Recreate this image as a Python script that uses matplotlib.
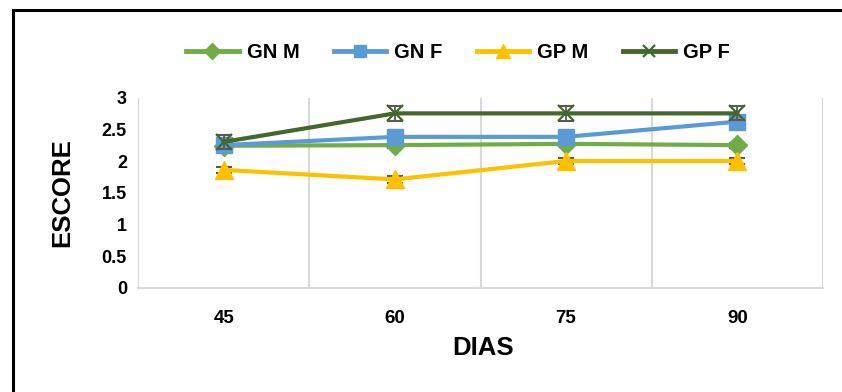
import matplotlib
matplotlib.use("Agg")
import matplotlib.pyplot as plt
from matplotlib.patches import Rectangle
import numpy as np

plt.rcParams['font.family'] = ['Liberation Sans', 'DejaVu Sans']
plt.rcParams['font.weight'] = 'bold'

# Data
dias = ["45", "60", "75", "90"]
gn_m = [2.24, 2.25, 2.27, 2.25]
gn_f = [2.25, 2.38, 2.38, 2.62]
gp_m = [1.86, 1.71, 2.0, 2.0]
gp_f = [2.30, 2.75, 2.75, 2.75]
err_gn_m = [0.04, 0.04, 0.04, 0.04]
err_gn_f = [0.04, 0.04, 0.04, 0.04]
err_gp_m = [0.05, 0.05, 0.05, 0.05]
err_gp_f = [0.11, 0.12, 0.12, 0.11]
series_names = ["GN M", "GN F", "GP M", "GP F"]
y_ticks = [0, 0.5, 1, 1.5, 2, 2.5, 3]
y_ticklabels = ["0", "0.5", "1", "1.5", "2", "2.5", "3"]

W, H = 842, 392
fig = plt.figure(figsize=(W / 100, H / 100), dpi=100)
ax = fig.add_axes([138 / W, 1 - 288 / H, (823 - 138) / W, (288 - 97.5) / H])

x = np.arange(len(dias))
styles = [
    dict(color="#70AD47", marker="D", ms=10.5, mec="#70AD47", mfc="#70AD47", mew=1),
    dict(color="#5B9BD5", marker="s", ms=12, mec="#5B9BD5", mfc="#5B9BD5", mew=1),
    dict(color="#FFC000", marker="^", ms=13, mec="#FFC000", mfc="#FFC000", mew=1),
    dict(color="#43682B", marker="x", ms=11, mec="#43682B", mfc="#43682B", mew=1.6),
]
values = [gn_m, gn_f, gp_m, gp_f]
errors = [err_gn_m, err_gn_f, err_gp_m, err_gp_f]

handles = []
for i, (vals, errs, st, name) in enumerate(zip(values, errors, styles, series_names)):
    ax.errorbar(x, vals, yerr=errs, fmt="none", ecolor="#595959",
                elinewidth=1.3, capsize=6, capthick=1.5, zorder=2 + i)
    h, = ax.plot(x, vals, lw=3, label=name, zorder=3 + i, **st)
    handles.append(h)

ax.set_xlim(-0.5, 3.5)
ax.set_ylim(0, 3)
ax.set_xticks(x)
ax.set_xticklabels(dias, fontsize=13.5, fontweight="bold")
ax.set_yticks(y_ticks)
ax.set_yticklabels(y_ticklabels, fontsize=13, fontweight="bold")
ax.tick_params(axis="both", which="both", length=0)
ax.tick_params(axis="x", pad=16)
ax.tick_params(axis="y", pad=8)

ax.set_xticks(np.arange(-0.5, 4.0, 1.0), minor=True)
ax.grid(True, which="minor", axis="x", color="#D9D9D9", lw=1.5)
ax.grid(False, which="major")
for s in ["top", "right", "left"]:
    ax.spines[s].set_visible(False)
ax.spines["bottom"].set_color("#D9D9D9")
ax.spines["bottom"].set_linewidth(1.5)

fig.text(483 / W, 1 - 348 / H, "DIAS", fontsize=18.5, fontweight="bold",
         ha="center", va="center")
fig.text(62 / W, 1 - 193 / H, "ESCORE", fontsize=18.5, fontweight="bold",
         ha="center", va="center", rotation=90)

leg = fig.legend(handles=handles, loc="center", bbox_to_anchor=(458 / W, 1 - 53 / H),
                 ncol=4, frameon=False, markerscale=0.75,
                 handlelength=2.6, handletextpad=0.4, columnspacing=1.7,
                 prop=dict(weight="bold", size=14.5))
for lh in leg.get_lines():
    lh.set_linewidth(3.5)

# outer frame of the chart area (runs past the right and bottom edges)
frame_bottom = -0.2
frame_top = 1 - 10 / H
fig.patches.append(Rectangle((13 / W, frame_bottom), 1.2, frame_top - frame_bottom,
                             transform=fig.transFigure, fill=False, ec="black",
                             lw=2.2, clip_on=False))

fig.savefig("out.png", dpi=100)
